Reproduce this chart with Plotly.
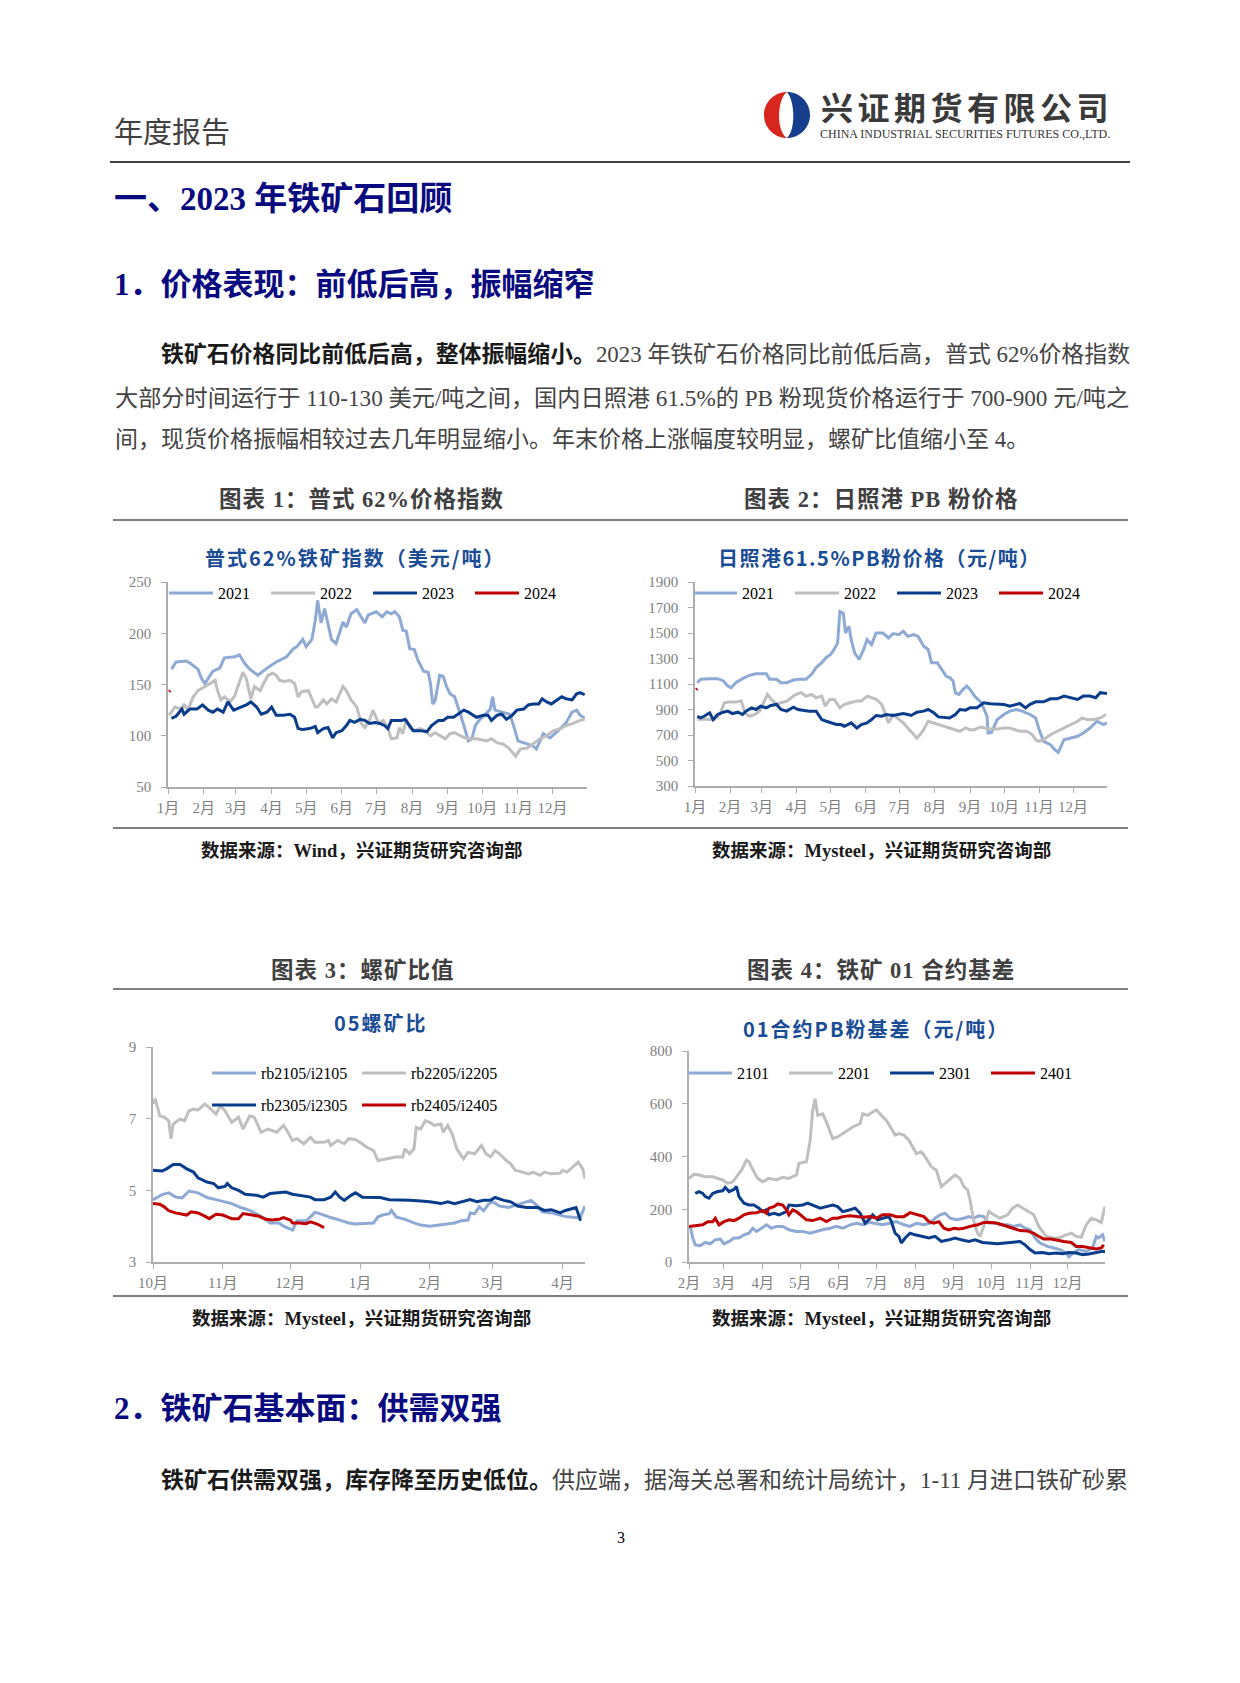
import plotly.graph_objects as go
import pandas as pd

W, H = 1240, 1683

# ================= DATA =================
# Chart 1: Platts 62% iron ore index (USD/t); x = day of year (0 = Jan 1)
c1_2021_day = [3,7,16,19,26,29,32,35,39,45,49,58,62,67,71,78,86,94,103,109,112,117,120,125,128,130,133,136,139,142,146,149,152,155,159,164,168,171,174,181,186,190,194,197,201,204,207,210,214,217,222,226,228,230,232,236,239,242,245,249,254,258,261,264,267,271,275,280,282,284,291,297,301,304,312,317,320,326,332,339,346,351,355,358,362]
c1_2021 = [165,172,173,171,165,156,151,156,163,166,176,177,179,170,165,159,166,172,177,185,187,194,187,194,213,232,210,224,210,194,190,200,211,206,219,223,216,210,218,221,216,221,219,221,216,203,202,185,184,174,163,162,151,131,134,159,158,148,141,138,121,105,95,97,110,116,120,126,138,125,123,121,107,95,92,90,87,102,98,105,113,123,125,120,117]
c1_2022_day = [1,6,12,14,17,22,26,32,36,41,43,46,49,54,58,62,65,68,72,75,80,83,87,91,94,97,101,106,110,113,116,122,125,128,130,135,138,142,146,149,152,155,159,164,168,171,175,178,183,187,191,194,199,201,204,207,210,214,219,223,228,232,236,241,245,249,254,258,262,268,277,281,286,291,296,300,302,306,312,317,323,329,335,341,346,352,358,362]
c1_2022 = [120,128,126,131,125,138,144,148,151,154,144,135,138,133,139,151,162,156,136,148,144,151,159,161,159,154,153,154,151,138,143,144,136,128,128,135,131,136,133,141,148,144,135,128,112,108,115,125,112,115,108,97,98,108,102,116,108,105,107,105,100,103,100,97,102,103,100,98,97,97,95,97,93,92,88,82,80,87,88,92,97,100,105,107,110,112,115,116]
c1_2023_day = [3,7,12,14,19,25,30,35,39,43,48,52,57,59,64,68,72,77,81,86,90,94,100,106,110,113,117,123,128,130,135,139,143,146,151,155,158,162,167,171,175,180,184,188,191,194,199,203,206,210,213,219,225,229,235,239,243,248,252,257,261,265,268,274,278,281,286,290,294,299,303,309,313,317,322,325,329,333,338,342,346,351,355,358,362]
c1_2023 = [117,119,126,121,126,126,130,125,123,126,123,133,125,126,128,130,133,128,121,123,128,120,120,121,118,107,106,107,109,103,107,108,98,103,105,110,115,113,116,115,112,113,112,110,107,115,115,115,116,110,105,105,104,110,115,115,118,118,121,125,123,120,118,120,120,115,120,121,116,120,125,126,130,131,131,136,133,131,135,138,136,135,141,142,140]
c1_2024_day = [1,2]
c1_2024 = [143,144]

# Chart 2: Rizhao port 61.5% PB fines (CNY/t); x = day of year
c2_2021_day = [2,5,13,20,25,29,32,36,42,48,54,60,63,66,72,76,81,87,92,98,103,107,112,116,120,123,126,128,131,133,136,138,141,145,149,152,156,160,166,171,175,180,184,188,193,197,202,206,209,214,218,222,225,228,230,233,237,240,243,247,253,258,259,262,267,273,278,284,289,296,301,304,308,314,318,321,326,332,338,343,349,355,358,361,364]
c2_2021 = [1110,1137,1142,1142,1124,1084,1071,1110,1142,1168,1181,1184,1181,1137,1137,1110,1110,1131,1137,1137,1176,1229,1268,1308,1334,1373,1422,1668,1655,1500,1552,1448,1345,1293,1371,1448,1409,1500,1500,1461,1495,1487,1513,1474,1487,1474,1397,1371,1267,1267,1215,1160,1150,1124,1032,1018,1058,1084,1058,1005,953,847,716,721,821,861,887,900,887,861,834,742,650,624,584,563,663,676,690,716,755,808,795,782,795]
c2_2022_day = [2,7,13,17,22,26,30,36,41,44,48,53,57,61,64,67,72,76,81,85,89,94,98,103,107,112,115,119,123,128,132,137,143,147,152,156,160,165,168,171,175,180,184,188,193,196,199,202,206,211,215,221,225,230,234,239,243,247,252,256,261,267,273,278,283,287,293,298,301,304,308,312,317,323,327,332,338,342,346,352,358,363]
c2_2022 = [821,826,821,821,861,953,958,958,966,874,847,861,887,966,1018,984,940,953,966,992,1018,1032,1005,1018,992,1005,926,979,979,913,940,953,966,966,1005,992,979,940,874,795,861,821,795,755,703,676,703,742,808,795,782,768,755,742,729,755,742,742,763,755,747,747,755,755,742,729,729,703,663,650,663,690,716,742,755,782,808,834,821,821,834,861]
c2_2023_day = [2,5,8,13,16,20,25,29,33,38,42,45,50,54,58,63,67,72,76,81,87,91,95,101,107,112,116,120,125,129,132,138,143,147,152,156,160,165,169,175,180,184,188,191,196,202,206,211,215,221,225,230,234,239,243,249,255,261,267,273,278,283,287,292,296,301,308,314,320,326,332,338,343,349,354,358,364]
c2_2023 = [847,834,847,874,821,861,879,887,868,879,861,887,913,900,926,913,932,940,900,887,918,900,895,887,887,821,808,795,782,782,768,795,755,782,795,821,853,847,861,853,861,868,861,853,879,887,900,874,842,840,834,861,900,895,913,913,953,945,940,940,926,940,947,913,940,960,960,984,984,1005,992,979,1005,1005,992,1032,1026]
c2_2024_day = [1,2]
c2_2024 = [1055,1063]

# Chart 3: rebar / iron ore ratio, 05 contracts; x = days since Oct 1
c3_rb2105_day = [0,4,7,10,13,16,20,24,28,32,35,39,43,47,50,52,56,58,62,64,68,70,72,76,79,83,87,90,95,98,100,102,105,106,108,112,116,119,123,127,130,134,137,140,141,143,145,147,149,151,154,158,161,165,168,171,173,177,181,184,188,190,192]
c3_rb2105 = [4.74,4.88,4.93,4.81,4.79,4.98,4.93,4.80,4.74,4.68,4.63,4.52,4.44,4.31,4.21,4.09,4.09,4.00,3.89,4.15,4.15,4.26,4.39,4.31,4.24,4.17,4.09,4.06,4.07,4.09,4.26,4.31,4.35,4.44,4.26,4.19,4.09,4.03,4.00,4.03,4.07,4.09,4.15,4.17,4.37,4.35,4.54,4.43,4.61,4.68,4.56,4.52,4.58,4.65,4.72,4.56,4.40,4.37,4.31,4.26,4.24,4.26,4.56]
c3_rb2205_day = [0,1,3,5,7,8,9,12,14,16,18,20,23,25,28,30,32,35,38,40,43,45,48,51,55,58,60,62,64,67,70,72,76,78,79,82,85,87,90,93,95,98,100,104,108,111,112,114,116,117,119,121,123,125,128,129,131,133,135,138,140,143,146,148,150,152,154,157,159,161,164,167,169,172,174,177,181,182,184,187,189,191,192]
c3_rb2205 = [7.41,7.56,7.08,7.04,6.94,6.44,6.85,6.99,6.94,7.22,7.27,7.24,7.41,7.31,7.13,7.36,7.22,6.90,7.04,6.71,7.08,7.04,6.62,6.71,6.62,6.81,6.62,6.39,6.44,6.30,6.48,6.34,6.34,6.39,6.25,6.39,6.30,6.44,6.41,6.30,6.20,6.11,5.83,5.88,5.93,5.93,6.16,6.02,6.16,6.76,6.71,6.94,6.90,6.81,6.85,6.62,6.81,6.57,6.16,5.88,6.06,6.02,6.25,6.02,5.93,6.11,6.02,5.83,5.74,5.56,5.51,5.46,5.51,5.42,5.51,5.46,5.48,5.56,5.51,5.69,5.79,5.60,5.32]
c3_rb2305_day = [0,4,6,9,12,15,18,20,24,27,29,32,33,35,38,41,46,49,52,55,59,62,67,70,72,76,79,81,83,85,88,90,93,96,101,105,110,114,119,123,128,131,134,138,141,144,147,150,152,156,159,162,166,171,174,177,181,183,186,188,189,190]
c3_rb2305 = [5.56,5.54,5.60,5.72,5.72,5.60,5.51,5.35,5.23,5.19,5.07,5.11,5.19,5.07,5.00,4.89,4.86,4.81,4.91,4.93,4.95,4.89,4.83,4.81,4.74,4.74,4.81,4.95,4.81,4.72,4.86,4.93,4.81,4.81,4.80,4.74,4.74,4.72,4.70,4.68,4.63,4.68,4.63,4.70,4.74,4.68,4.72,4.72,4.80,4.72,4.68,4.56,4.52,4.52,4.44,4.46,4.37,4.43,4.49,4.52,4.35,4.15]
c3_rb2405_day = [0,3,5,7,10,13,15,17,20,23,25,28,31,33,35,38,40,44,47,50,53,56,58,61,62,65,68,70,73,76]
c3_rb2405 = [4.63,4.61,4.54,4.43,4.37,4.33,4.31,4.40,4.37,4.28,4.21,4.33,4.31,4.26,4.21,4.21,4.35,4.31,4.28,4.19,4.17,4.19,4.24,4.17,4.09,4.09,4.07,4.12,4.06,3.96]

# Chart 4: 01 contract PB fines basis (CNY/t); x = day of year
c4_2101_day = [32,34,36,40,44,48,52,56,59,63,67,71,75,79,82,85,89,93,97,101,106,111,117,122,128,133,138,144,149,154,160,165,170,176,181,186,192,197,203,208,213,219,224,228,232,236,240,245,251,255,259,263,267,271,275,280,286,291,296,300,304,308,312,318,323,328,333,335,339,343,349,354,357,359,362,364]
c4_2101 = [135,91,65,62,74,69,84,87,69,78,91,91,103,109,128,116,128,141,128,135,135,122,116,116,109,116,122,128,135,128,141,147,141,150,145,141,147,153,141,135,147,141,147,166,179,185,166,160,166,172,166,175,172,147,150,141,141,135,141,128,122,91,72,59,53,47,34,19,36,47,40,53,97,91,103,78]
c4_2201_day = [31,35,39,44,50,54,58,62,66,69,73,77,79,83,86,90,95,101,106,111,117,119,125,128,130,132,134,138,141,144,146,150,154,158,162,168,170,174,178,181,185,189,193,196,199,203,207,211,213,217,221,225,229,233,236,240,244,248,251,254,256,259,262,264,267,271,275,280,286,290,294,298,302,307,311,317,322,327,333,337,341,345,349,353,357,361,364]
c4_2201 = [317,333,330,323,323,317,311,298,304,323,348,386,380,342,317,304,317,311,321,317,330,374,380,462,575,619,556,562,531,493,468,474,487,499,512,525,562,556,569,577,556,537,506,481,487,481,462,424,411,418,392,361,348,286,298,317,330,317,286,273,235,153,109,97,135,191,179,166,179,204,216,204,191,179,135,97,91,91,103,109,97,94,141,166,160,150,210]
c4_2301_day = [36,39,42,44,47,50,54,58,60,63,67,69,71,75,79,83,87,90,93,95,99,103,109,111,117,122,126,130,136,141,146,150,154,160,164,168,172,176,178,182,186,191,193,196,199,201,204,208,212,217,223,228,233,239,244,249,255,260,266,271,278,284,291,296,300,304,308,314,319,325,330,335,341,346,351,357,361,364]
c4_2301 = [260,267,260,248,242,260,267,270,283,267,275,286,248,223,216,216,204,191,198,179,185,179,191,216,213,216,223,216,204,210,216,210,191,198,204,185,147,166,179,160,166,172,153,109,97,72,91,109,103,97,91,97,78,84,91,84,78,84,74,72,69,72,74,78,65,47,34,36,31,34,31,36,34,28,30,36,40,40]
c4_2401_day = [31,36,42,46,50,52,55,59,63,67,71,75,79,85,90,93,95,99,102,106,109,111,114,117,122,125,130,136,141,146,150,154,160,165,170,176,181,186,192,197,203,208,213,219,223,227,231,235,239,243,247,251,256,262,267,272,278,282,286,291,296,302,307,311,315,321,326,331,337,341,346,351,357,361,363]
c4_2401 = [135,137,141,153,153,166,141,153,160,157,166,179,185,187,195,185,204,210,220,216,198,179,198,191,172,160,157,166,153,166,166,172,175,172,170,172,166,179,179,172,172,187,179,172,153,147,153,128,122,128,125,128,135,141,150,150,147,141,135,125,119,118,109,97,87,87,82,78,74,59,59,55,49,53,65]

# ================= STYLE =================
SERIF = "Liberation Serif, Noto Sans CJK SC"
CJK = "Noto Sans CJK SC"
C_A, C_B, C_C, C_D = "#8EA9D4", "#BFBFBF", "#0A3C8C", "#C00000"
AX = "#ADADAD"
TICKF = dict(family=SERIF, size=15, color="#7F7F7F")
NAVY_T = "#1B4C96"


def dates(base, days):
    b = pd.Timestamp(base)
    return [(b + pd.Timedelta(days=int(d))).strftime("%Y-%m-%d") for d in days]


def fx(x):
    return x / W


def fy(y):
    return 1 - y / H


fig = go.Figure()

series = [
    (1, "2023-01-01", c1_2021_day, c1_2021, "2021", C_A, "legend"),
    (1, "2023-01-01", c1_2022_day, c1_2022, "2022", C_B, "legend"),
    (1, "2023-01-01", c1_2023_day, c1_2023, "2023", C_C, "legend"),
    (1, "2023-01-01", c1_2024_day, c1_2024, "2024", C_D, "legend"),
    (2, "2023-01-01", c2_2021_day, c2_2021, "2021", C_A, "legend2"),
    (2, "2023-01-01", c2_2022_day, c2_2022, "2022", C_B, "legend2"),
    (2, "2023-01-01", c2_2023_day, c2_2023, "2023", C_C, "legend2"),
    (2, "2023-01-01", c2_2024_day, c2_2024, "2024", C_D, "legend2"),
    (3, "2022-10-01", c3_rb2105_day, c3_rb2105, "rb2105/i2105", C_A, "legend3"),
    (3, "2022-10-01", c3_rb2205_day, c3_rb2205, "rb2205/i2205", C_B, "legend3"),
    (3, "2022-10-01", c3_rb2305_day, c3_rb2305, "rb2305/i2305", C_C, "legend4"),
    (3, "2022-10-01", c3_rb2405_day, c3_rb2405, "rb2405/i2405", C_D, "legend4"),
    (4, "2023-01-01", c4_2101_day, c4_2101, "2101", C_A, "legend5"),
    (4, "2023-01-01", c4_2201_day, c4_2201, "2201", C_B, "legend5"),
    (4, "2023-01-01", c4_2301_day, c4_2301, "2301", C_C, "legend5"),
    (4, "2023-01-01", c4_2401_day, c4_2401, "2401", C_D, "legend5"),
]
for idx, base, d, v, name, col, lg in series:
    sfx = "" if idx == 1 else str(idx)
    fig.add_trace(go.Scatter(
        x=dates(base, d), y=v, mode="lines", name=name,
        line=dict(color=col, width=3), xaxis="x" + sfx, yaxis="y" + sfx,
        legend=lg, hoverinfo="skip"))

areas = {
    1: (168, 587, 582, 787),
    2: (695, 1107, 582, 786),
    3: (153, 585, 1047, 1262),
    4: (689, 1105, 1051, 1262),
}
xr = {
    1: ["2023-01-01", "2023-12-31"],
    2: ["2023-01-01", "2023-12-31"],
    3: ["2022-10-01", "2023-04-11"],
    4: ["2023-02-01", "2023-12-31"],
}
yr = {1: ([50, 250], 50), 2: ([300, 1900], 200), 3: ([3, 9], 2), 4: ([0, 800], 200)}

layout = dict(
    width=W, height=H, autosize=False,
    margin=dict(l=0, r=0, t=0, b=0, pad=0),
    paper_bgcolor="white", plot_bgcolor="rgba(0,0,0,0)",
    hovermode=False, showlegend=True,
)
for i in range(1, 5):
    l, r, t, b = areas[i]
    sfx = "" if i == 1 else str(i)
    layout["xaxis" + sfx] = dict(
        domain=[fx(l), fx(r)], range=xr[i], type="date", anchor="y" + sfx,
        dtick="M1", tick0=xr[i][0], tickformat="%-m月", tickangle=0,
        showline=True, linecolor=AX, linewidth=1.5, ticks="outside",
        ticklen=5, tickwidth=1.2, tickcolor=AX, showgrid=False, zeroline=False,
        tickfont=TICKF, fixedrange=True, ticklabelstandoff=1, automargin=False)
    rng, dt = yr[i]
    layout["yaxis" + sfx] = dict(
        domain=[fy(b), fy(t)], range=rng, dtick=dt, tick0=rng[0],
        anchor="x" + sfx, showline=True, linecolor=AX, linewidth=1.5,
        ticks="outside", ticklen=5, tickwidth=1.2, tickcolor=AX,
        showgrid=False, zeroline=False, tickfont=TICKF, fixedrange=True,
        ticklabelstandoff=7, automargin=False)


def leg(xpx, ypx, ew):
    return dict(orientation="h", x=fx(xpx), y=fy(ypx), xanchor="left",
                yanchor="middle", bgcolor="rgba(0,0,0,0)",
                font=dict(family=SERIF, size=16, color="#000000"),
                entrywidth=ew, entrywidthmode="pixels", itemwidth=44,
                tracegroupgap=0, itemclick=False, itemdoubleclick=False,
                traceorder="normal")


layout["legend"] = leg(164, 593, 43)
layout["legend2"] = leg(688, 593, 43)
layout["legend3"] = leg(207, 1073, 91)
layout["legend4"] = leg(207, 1105, 91)
layout["legend5"] = leg(683, 1073, 42)

fig.update_layout(**layout)

# ================= PAGE TEXT =================
ann = []


def T(x, y, text, size, color="#333333", family=SERIF, anchor="left"):
    ann.append(dict(x=fx(x), y=fy(y), xref="paper", yref="paper", text=text,
                    showarrow=False, xanchor=anchor, yanchor="middle",
                    font=dict(family=family, size=size, color=color)))


def sp(text, px):
    return f"<span style='letter-spacing:{px}px'>{text}</span>"


T(112, 130, "年度报告", 29, "#404040", CJK)
T(819, 106, "<b>" + sp("兴证期货有限公司", 4.5) + "</b>", 32, "#3A3A3A", CJK)
T(818, 134, "CHINA INDUSTRIAL SECURITIES FUTURES CO.,LTD.", 12, "#333333", SERIF)

NAVY = "#0A0A80"
T(112, 199, "<b>一、2023 年铁矿石回顾</b>", 33, NAVY)
T(112, 284, "<b>1．价格表现：前低后高，振幅缩窄</b>", 31, NAVY)

BODY = "#444444"
T(159, 355, "<b><span style='color:#1a1a1a'>铁矿石价格同比前低后高，整体振幅缩小。</span></b>2023 年铁矿石价格同比前低后高，普式 62%价格指数", 22.9, BODY)
T(113, 398, "大部分时间运行于 110-130 美元/吨之间，国内日照港 61.5%的 PB 粉现货价格运行于 700-900 元/吨之", 23.2, BODY)
T(113, 440, "间，现货价格振幅相较过去几年明显缩小。年末价格上涨幅度较明显，螺矿比值缩小至 4。", 23, BODY)

CAP = "#404040"
T(361, 500, "<b>" + sp("图表 1：普式 62%价格指数", 1) + "</b>", 22.5, CAP, anchor="center")
T(881, 500, "<b>" + sp("图表 2：日照港 PB 粉价格", 1) + "</b>", 22.5, CAP, anchor="center")
T(362, 970, "<b>" + sp("图表 3：螺矿比值", 1) + "</b>", 22.5, CAP, anchor="center")
T(881, 970, "<b>" + sp("图表 4：铁矿 01 合约基差", 1) + "</b>", 22.5, CAP, anchor="center")

T(355, 557, "<b>" + sp("普式62%铁矿指数（美元/吨）", 2) + "</b>", 20, NAVY_T, CJK, "center")
T(879, 557, "<b>" + sp("日照港61.5%PB粉价格（元/吨）", 1.5) + "</b>", 20, NAVY_T, CJK, "center")
T(381, 1022, "<b>" + sp("05螺矿比", 2) + "</b>", 20, NAVY_T, CJK, "center")
T(876, 1028, "<b>" + sp("01合约PB粉基差（元/吨）", 2) + "</b>", 20, NAVY_T, CJK, "center")

SRC = "#1A1A1A"
T(361, 850, "<b>数据来源：Wind，兴证期货研究咨询部</b>", 18.5, SRC, anchor="center")
T(881, 850, "<b>数据来源：Mysteel，兴证期货研究咨询部</b>", 18.5, SRC, anchor="center")
T(361, 1318, "<b>数据来源：Mysteel，兴证期货研究咨询部</b>", 18.5, SRC, anchor="center")
T(881, 1318, "<b>数据来源：Mysteel，兴证期货研究咨询部</b>", 18.5, SRC, anchor="center")

T(112, 1408, "<b>2．铁矿石基本面：供需双强</b>", 31, NAVY)
T(159, 1480, "<b><span style='color:#1a1a1a'>铁矿石供需双强，库存降至历史低位。</span></b>供应端，据海关总署和统计局统计，1-11 月进口铁矿砂累", 23, BODY)
T(621, 1537, "3", 16, "#000000", SERIF, "center")

fig.update_layout(annotations=ann)

# ================= RULES & LOGO =================
shapes = []


def rule(x0, x1, y, w=1.3):
    shapes.append(dict(type="line", xref="paper", yref="paper",
                       x0=fx(x0), x1=fx(x1), y0=fy(y), y1=fy(y),
                       line=dict(color="#000000", width=w)))


rule(110, 1130, 162, 1.3)
for yy in (520, 828, 989, 1296):
    rule(113, 1128, yy, 1.2)


def path(pts):
    out = []
    for cmd, coords in pts:
        s = cmd
        for (x, y) in coords:
            s += f" {fx(x):.5f},{fy(y):.5f}"
        out.append(s)
    return " ".join(out) + " Z"


red = path([("M", [(787, 92)]),
            ("C", [(774.3, 92), (764, 102.3), (764, 115)]),
            ("C", [(764, 127.7), (774.3, 138), (787, 138)]),
            ("C", [(776, 131), (777, 99), (787, 92)])])
blue = path([("M", [(787, 92)]),
             ("C", [(799.7, 92), (810, 102.3), (810, 115)]),
             ("C", [(810, 127.7), (799.7, 138), (787, 138)]),
             ("C", [(796, 130), (795, 101), (787, 92)])])
shapes.append(dict(type="path", xref="paper", yref="paper", path=red,
                   fillcolor="#D7261E", line=dict(width=0)))
shapes.append(dict(type="path", xref="paper", yref="paper", path=blue,
                   fillcolor="#173E8C", line=dict(width=0)))

fig.update_layout(shapes=shapes)

fig.write_html(
    "out.html",
    config={"displayModeBar": False, "staticPlot": False},
    post_script="document.body.style.margin='0px';"
                "document.body.style.overflow='hidden';"
                "document.documentElement.style.overflow='hidden';")
